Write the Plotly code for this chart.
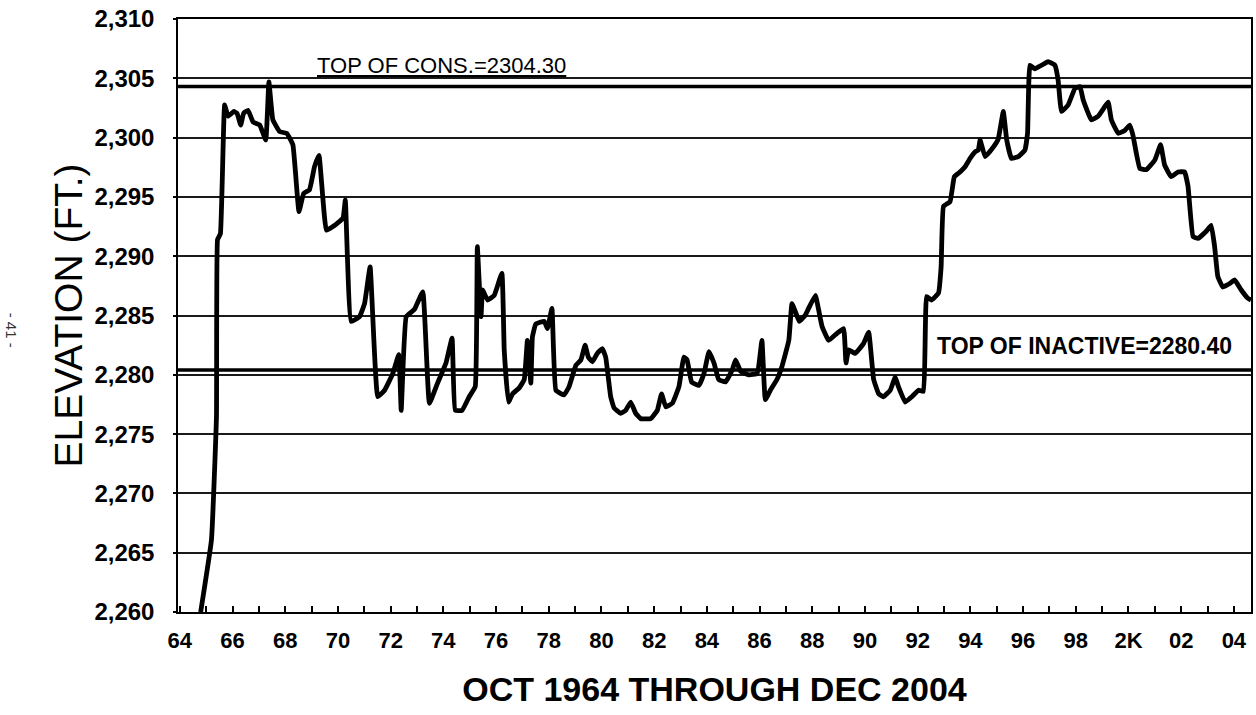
import plotly.graph_objects as go

# ---- data ----
years = [
    1964.79, 1965.20, 1965.39, 1965.43, 1965.54, 1965.70, 1965.83, 1966.05, 1966.17, 1966.31,
    1966.42, 1966.59, 1966.78, 1967.03, 1967.26, 1967.38, 1967.53, 1967.79, 1968.06, 1968.29,
    1968.52, 1968.70, 1968.92, 1969.11, 1969.28, 1969.56, 1969.81, 1970.19, 1970.28, 1970.50,
    1970.82, 1971.01, 1971.22, 1971.51, 1971.77, 1972.08, 1972.31, 1972.40, 1972.59, 1972.90,
    1973.22, 1973.47, 1973.78, 1974.10, 1974.33, 1974.45, 1974.71, 1974.98, 1975.21, 1975.29,
    1975.43, 1975.49, 1975.68, 1975.93, 1976.22, 1976.31, 1976.47, 1976.63, 1976.88, 1977.07,
    1977.19, 1977.32, 1977.38, 1977.51, 1977.83, 1977.95, 1978.12, 1978.27, 1978.58, 1978.77,
    1979.03, 1979.22, 1979.38, 1979.50, 1979.66, 1979.84, 1980.03, 1980.16, 1980.35, 1980.48,
    1980.73, 1980.92, 1981.11, 1981.30, 1981.49, 1981.87, 1982.12, 1982.28, 1982.44, 1982.69,
    1982.94, 1983.13, 1983.25, 1983.42, 1983.70, 1983.89, 1984.08, 1984.27, 1984.45, 1984.71,
    1984.96, 1985.09, 1985.28, 1985.59, 1985.91, 1986.09, 1986.22, 1986.41, 1986.66, 1986.85,
    1987.11, 1987.23, 1987.38, 1987.51, 1987.74, 1987.86, 1988.12, 1988.24, 1988.37, 1988.62,
    1988.94, 1989.19, 1989.28, 1989.38, 1989.63, 1989.95, 1990.14, 1990.33, 1990.52, 1990.70,
    1990.96, 1991.15, 1991.27, 1991.53, 1991.78, 1992.03, 1992.22, 1992.34, 1992.53, 1992.79,
    1992.89, 1992.98, 1993.23, 1993.39, 1993.55, 1993.80, 1993.99, 1994.18, 1994.30, 1994.37,
    1994.56, 1994.87, 1995.06, 1995.25, 1995.38, 1995.56, 1995.82, 1996.07, 1996.17, 1996.26,
    1996.45, 1996.70, 1996.95, 1997.21, 1997.33, 1997.46, 1997.71, 1997.97, 1998.16, 1998.28,
    1998.59, 1998.85, 1999.10, 1999.23, 1999.35, 1999.61, 1999.86, 2000.05, 2000.17, 2000.43,
    2000.68, 2001.00, 2001.22, 2001.37, 2001.62, 2001.88, 2002.13, 2002.26, 2002.45, 2002.64,
    2002.95, 2003.14, 2003.27, 2003.39, 2003.58, 2003.84, 2004.03, 2004.28, 2004.53, 2004.65,
]
elevation = [
    2260.0, 2266.1, 2276.5, 2291.4, 2291.9, 2302.75, 2301.8, 2302.2, 2302.05, 2301.06,
    2302.05, 2302.3, 2301.3, 2301.06, 2299.8, 2304.7, 2301.5, 2300.5, 2300.36, 2299.4,
    2293.75, 2295.3, 2295.6, 2297.55, 2298.5, 2292.2, 2292.5, 2293.2, 2294.74, 2284.5,
    2284.9, 2286.0, 2289.1, 2278.15, 2278.7, 2280.1, 2281.7, 2277.0, 2284.9, 2285.5,
    2287.0, 2277.6, 2279.3, 2281.0, 2283.1, 2277.0, 2277.0, 2278.15, 2279.0, 2290.8,
    2284.9, 2287.15, 2286.3, 2286.7, 2288.55, 2282.1, 2277.7, 2278.4, 2278.9, 2279.6,
    2282.9, 2279.3, 2283.2, 2284.3, 2284.5, 2283.9, 2285.6, 2278.7, 2278.3, 2279.0,
    2280.8, 2281.25, 2282.5, 2281.5, 2281.1, 2281.8, 2282.2, 2281.5, 2278.15, 2277.2,
    2276.75, 2277.0, 2277.7, 2276.75, 2276.3, 2276.3, 2277.0, 2278.4, 2277.3, 2277.6,
    2279.0, 2281.5, 2281.25, 2279.4, 2279.1, 2280.1, 2281.95, 2281.0, 2279.6, 2279.4,
    2280.4, 2281.25, 2280.3, 2280.0, 2280.1, 2282.9, 2277.9, 2278.7, 2279.6, 2280.7,
    2282.9, 2286.0, 2285.2, 2284.5, 2285.05, 2285.6, 2286.7, 2285.5, 2284.1, 2282.9,
    2283.5, 2283.9, 2281.0, 2282.1, 2281.8, 2282.65, 2283.6, 2279.6, 2278.4, 2278.15,
    2278.7, 2279.8, 2279.0, 2277.7, 2278.15, 2278.7, 2278.6, 2286.6, 2286.3, 2286.9,
    2289.1, 2294.2, 2294.6, 2296.7, 2297.0, 2297.55, 2298.25, 2298.8, 2298.95, 2299.8,
    2298.4, 2299.2, 2299.9, 2302.2, 2299.8, 2298.25, 2298.4, 2298.95, 2300.36, 2306.1,
    2305.8, 2306.1, 2306.4, 2306.1, 2304.85, 2302.2, 2302.75, 2304.15, 2304.3, 2303.2,
    2301.5, 2301.8, 2302.6, 2303.0, 2301.5, 2300.36, 2300.6, 2301.06, 2300.2, 2297.4,
    2297.3, 2298.1, 2299.4, 2297.7, 2296.7, 2297.1, 2297.1, 2295.9, 2291.65, 2291.5,
    2292.1, 2292.6, 2290.8, 2288.3, 2287.4, 2287.7, 2288.0, 2287.15, 2286.45, 2286.3,
]

tick_years = list(range(1964, 2005, 2))
tick_labels = ["64", "66", "68", "70", "72", "74", "76", "78", "80", "82", "84",
               "86", "88", "90", "92", "94", "96", "98", "2K", "02", "04"]
y_ticks = list(range(2260, 2311, 5))

TOP_CONS = 2304.30
TOP_INACTIVE = 2280.40

SANS = "Liberation Sans, Arial, sans-serif"

fig = go.Figure()
fig.add_trace(go.Scatter(
    x=years, y=elevation, mode="lines",
    line=dict(color="#000000", width=4.8, shape="spline", smoothing=0.3),
    showlegend=False, hoverinfo="skip",
))

for lvl in (TOP_CONS, TOP_INACTIVE):
    fig.add_shape(type="line", xref="paper", x0=0, x1=1, yref="y", y0=lvl, y1=lvl,
                  line=dict(color="#000000", width=3.5), layer="above")

fig.add_annotation(
    x=1969.11, y=2305, xref="x", yref="y", xanchor="left", yanchor="bottom",
    text="<u>TOP OF CONS.=2304.30</u>", showarrow=False, yshift=-2,
    font=dict(family=SANS, size=22, color="#000000"),
)
fig.add_annotation(
    x=1992.67, y=2282.4, xref="x", yref="y", xanchor="left", yanchor="middle",
    text="<b>TOP OF INACTIVE=2280.40</b>", showarrow=False,
    font=dict(family=SANS, size=23, color="#000000"),
)
fig.add_annotation(
    x=-0.1544, y=0.4755, xref="paper", yref="paper", xanchor="center", yanchor="middle",
    text="- 41 -", showarrow=False, textangle=90,
    font=dict(family=SANS, size=15, color="#333333"),
)

fig.update_layout(
    width=1256, height=715,
    margin=dict(l=178, r=3, t=19, b=103),
    paper_bgcolor="#ffffff", plot_bgcolor="#ffffff",
    xaxis=dict(
        range=[1963.93, 2004.65],
        tickvals=tick_years, ticktext=tick_labels,
        ticks="inside", ticklen=6, tickwidth=1.5, tickcolor="#000000",
        minor=dict(ticks="inside", dtick=1, tick0=1964, ticklen=6, tickwidth=1.5,
                   tickcolor="#000000", showgrid=False),
        showgrid=False, zeroline=False,
        showline=True, mirror=True, linecolor="#000000", linewidth=1.5,
        tickfont=dict(family=SANS, size=22, color="#000000", weight="bold"),
        ticklabelstandoff=8,
        title=dict(text="<b>OCT 1964 THROUGH DEC 2004</b>", standoff=25,
                   font=dict(family=SANS, size=34, color="#000000")),
    ),
    yaxis=dict(
        range=[2260, 2310],
        tickvals=y_ticks, tickformat=",d",
        ticks="outside", ticklen=3, tickwidth=1.5, tickcolor="#000000",
        showgrid=True, gridcolor="#1a1a1a", gridwidth=1.5, zeroline=False,
        showline=True, mirror=True, linecolor="#000000", linewidth=1.5,
        tickfont=dict(family=SANS, size=24, color="#000000", weight="bold"),
        ticklabelstandoff=14, ticklabeloverflow="allow",
        title=dict(text="ELEVATION (FT.)", standoff=0,
                   font=dict(family=SANS, size=39, color="#000000")),
    ),
)

fig.write_html("out.html", config={"displayModeBar": False},
               post_script="document.body.style.margin='0';")
